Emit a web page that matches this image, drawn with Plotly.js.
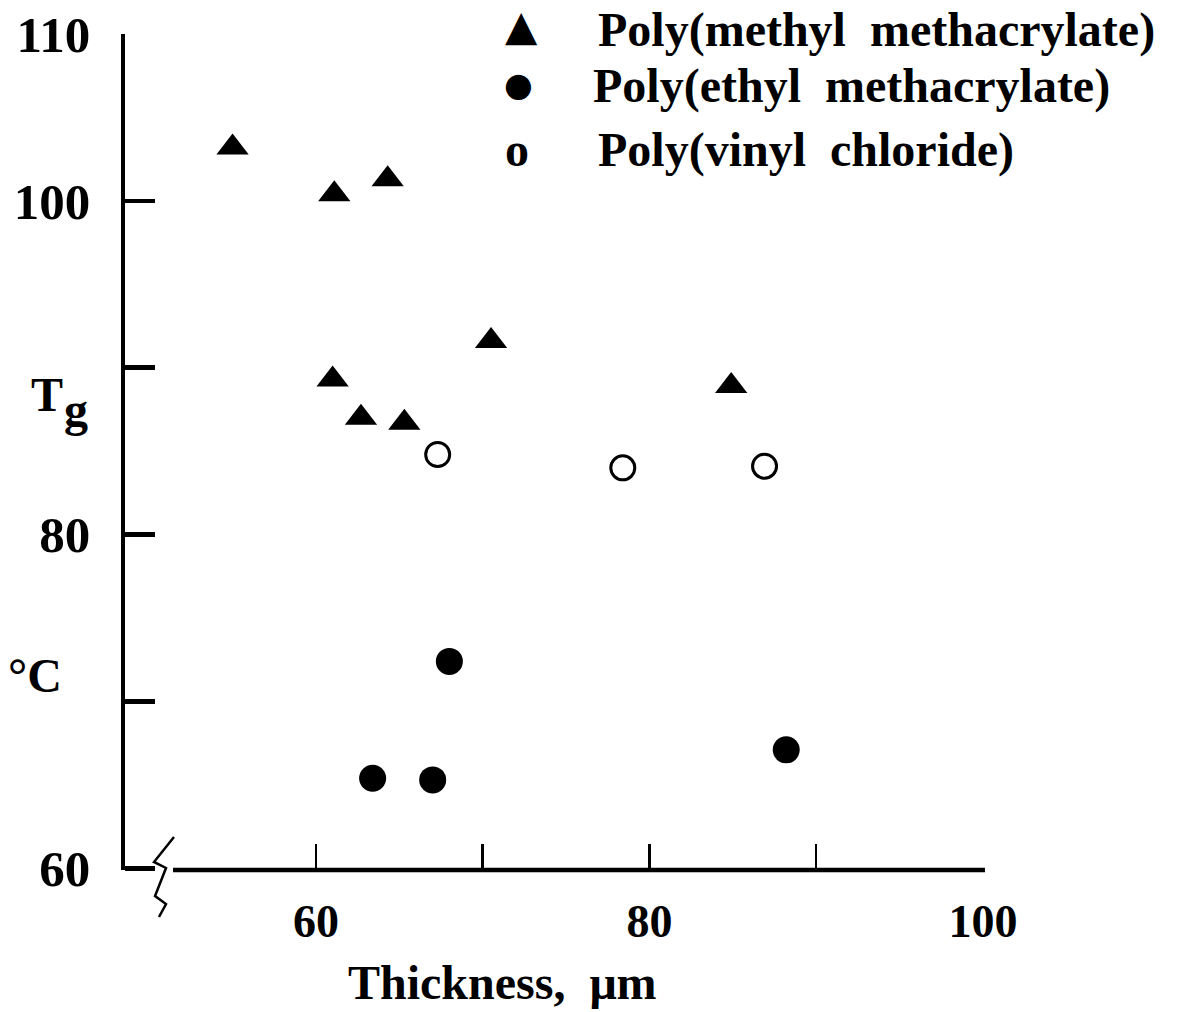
<!DOCTYPE html>
<html>
<head>
<meta charset="utf-8">
<script src="https://cdn.plot.ly/plotly-3.0.1.min.js"></script>
<style>html,body{margin:0;padding:0;background:#fff;}#chart{width:1184px;height:1012px;}</style>
</head>
<body>
<div id="chart"></div>
<script>
// ---- data ----
const seriesNames = ["Poly(methyl methacrylate)", "Poly(ethyl methacrylate)", "Poly(vinyl chloride)"];
const pmmaThickness = [55.0, 61.1, 64.3, 70.5, 61.0, 62.7, 65.3, 84.9];
const pmmaTg        = [103.2, 100.4, 101.3, 91.6, 89.3, 87.0, 86.7, 88.9];
const pemaThickness = [68.0, 63.4, 67.0, 88.2];
const pemaTg        = [72.4, 65.4, 65.3, 67.1];
const pvcThickness  = [67.3, 78.4, 86.9];
const pvcTg         = [84.8, 84.0, 84.1];
const xLabelVals = [60, 80, 100];
const xLabelText = ["60", "80", "100"];
const xMinorVals = [70, 90];
const yLabelVals = [60, 80, 100, 110];
const yLabelText = ["60", "80", "100", "110"];
const yMinorVals = [70, 90];

// ---- layout geometry (pixels) ----
const L = 125, T = 34, W = 858, H = 836;
const FONT = "Liberation Serif, Times New Roman, serif";
function px(x) { return (x - L) / W; }
function py(y) { return (T + H - y) / H; }

const traces = [
  {x: pmmaThickness, y: pmmaTg, name: seriesNames[0], type: "scatter", mode: "markers",
   marker: {symbol: "triangle-up", size: 28, color: "#000"}},
  {x: pemaThickness, y: pemaTg, name: seriesNames[1], type: "scatter", mode: "markers",
   marker: {symbol: "circle", size: 27, color: "#000"}},
  {x: pvcThickness, y: pvcTg, name: seriesNames[2], type: "scatter", mode: "markers",
   marker: {symbol: "circle-open", size: 24, color: "#000", line: {width: 3, color: "#000"}}}
];

const zig = [[174, 837], [154, 862], [166, 868], [155, 896], [166, 904], [159, 917]];
const zigPath = zig.map((p, i) => (i ? "L" : "M") + px(p[0]).toFixed(4) + "," + py(p[1]).toFixed(4)).join(" ");

const txt = (s, x, y, opts) => Object.assign({
  text: s, xref: "paper", yref: "paper", x: px(x), y: py(y),
  xanchor: "left", yanchor: "middle", showarrow: false,
  font: {family: FONT, size: 48, color: "#000", weight: "bold"}
}, opts || {});

const layout = {
  width: 1184, height: 1012,
  margin: {l: L, r: 1184 - L - W, t: T, b: 1012 - T - H, pad: 0},
  paper_bgcolor: "#fff", plot_bgcolor: "#fff",
  showlegend: false,
  xaxis: {
    range: [48.55, 100], showgrid: false, zeroline: false, showline: false,
    ticks: "inside", ticklen: 26, tickwidth: 2.5, tickcolor: "#000",
    tickmode: "array", tickvals: xLabelVals, ticktext: xLabelText, ticklabelstandoff: 20,
    minor: {tickmode: "array", tickvals: xMinorVals, ticks: "inside", ticklen: 26, tickwidth: 2.5, tickcolor: "#000", showgrid: false},
    tickfont: {family: FONT, size: 46, color: "#000", weight: "bold"}
  },
  yaxis: {
    range: [59.9, 110], showgrid: false, zeroline: false,
    showline: true, linewidth: 4.5, linecolor: "#000",
    ticks: "inside", ticklen: 30, tickwidth: 4.5, tickcolor: "#000",
    tickmode: "array", tickvals: yLabelVals, ticktext: yLabelText, ticklabelstandoff: 20,
    minor: {tickmode: "array", tickvals: yMinorVals, ticks: "inside", ticklen: 30, tickwidth: 4.5, tickcolor: "#000", showgrid: false},
    tickfont: {family: FONT, size: 51, color: "#000", weight: "bold"}
  },
  shapes: [
    {type: "line", xref: "paper", yref: "paper", x0: px(173), x1: px(985), y0: 0, y1: 0,
     line: {color: "#000", width: 4.5}},
    {type: "path", xref: "paper", yref: "paper", path: zigPath,
     line: {color: "#000", width: 2.5}}
  ],
  annotations: [
    txt("T", 30, 394, {borderpad: 0}),
    txt("g", 63, 409, {borderpad: 0}),
    txt("°C", 6, 675),
    txt("Thickness,\u00a0\u00a0μm", 502, 982, {xanchor: "center"}),
    txt("▲", 521, 26, {xanchor: "center", font: {family: "DejaVu Sans", size: 42, color: "#000"}}),
    txt("●", 518, 84, {xanchor: "center", font: {family: "DejaVu Sans", size: 33, color: "#000"}}),
    txt("o", 517, 150, {xanchor: "center"}),
    txt(seriesNames[0].replace(" ", "\u00a0 "), 596, 30),
    txt(seriesNames[1].replace(" ", "\u00a0 "), 591, 86),
    txt(seriesNames[2].replace(" ", "\u00a0 "), 596, 150)
  ]
};

Plotly.newPlot("chart", traces, layout, {displayModeBar: false, staticPlot: true});
</script>
</body>
</html>
